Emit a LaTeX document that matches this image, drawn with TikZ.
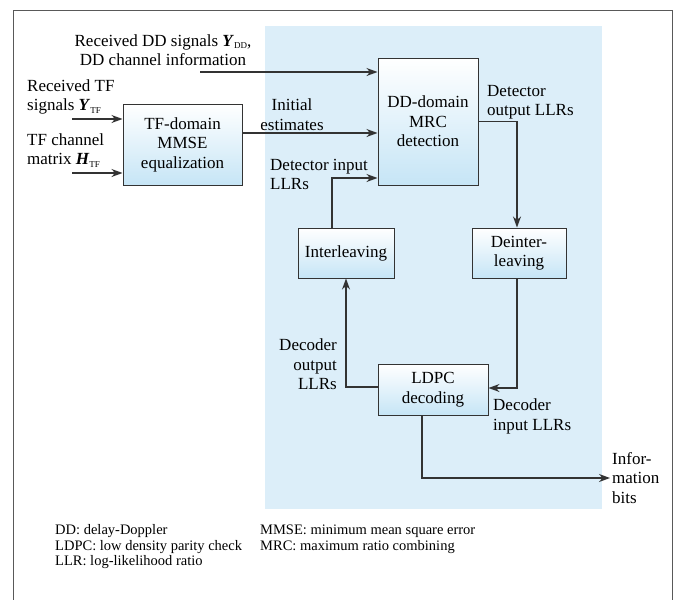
\documentclass[tikz,border=0pt]{standalone}
\usepackage{fontspec}
\setmainfont{Liberation Serif}
\usetikzlibrary{arrows.meta, positioning, calc}

\definecolor{panelblue}{HTML}{DCEEF9}
\definecolor{boxblue}{HTML}{C6E5F6}
\definecolor{edgegray}{HTML}{333333}
\newcommand{\bvec}[2]{\textbf{\textit{#1}}\raisebox{-0.35ex}{\fontsize{9}{9}\selectfont #2}}

\begin{document}
\begin{tikzpicture}[x=1pt, y=-1pt,
    every node/.style={font=\fontsize{17}{19.5}\selectfont, inner sep=2pt},
    block/.style={draw=edgegray, line width=1pt, top color=white, bottom color=boxblue, align=center, inner sep=0pt},
    lbl/.style={align=left, anchor=west},
    arr/.style={-{Stealth[length=11pt, width=8pt, inset=3.5pt]}, line width=1.1pt, draw=edgegray}]
    \useasboundingbox (0,0) rectangle (681,600);
    \fill[panelblue] (265,26) rectangle (602,509);
    \draw[gray!70!black, line width=1pt] (13,600) -- (13,10) -- (672,10) -- (672,600);

    \node[block, minimum width=119pt, minimum height=81pt] (tf) at (182.5,144.5) {TF-domain\\MMSE\\equalization};
    \node[block, minimum width=100pt, minimum height=127pt] (mrc) at (428,121.5) {DD-domain\\MRC\\detection};
    \node[block, minimum width=96pt, minimum height=50pt] (il) at (346,253) {Interleaving};
    \node[block, minimum width=94pt, minimum height=50pt] (dil) at (519,253) {Deinter-\\leaving};
    \node[block, minimum width=110pt, minimum height=51pt] (ldpc) at (433,389.5) {LDPC\\decoding};

    \node[align=center] (rxdd) at (163,50) {Received DD signals \bvec{Y}{DD},\\DD channel information};
    \node[lbl] (rxtf) at (25,97) {Received TF\\signals \bvec{Y}{TF}};
    \node[lbl] (tfch) at (25,150.5) {TF channel\\matrix \bvec{H}{TF}};
    \node[align=center] (init) at (292,114.5) {Initial\\estimates};
    \node[lbl] (detin) at (268,174.5) {Detector input\\LLRs};
    \node[lbl] (detout) at (485,102) {Detector\\output LLRs};
    \node[align=right, anchor=east] (decout) at (339,364.5) {Decoder\\output\\LLRs};
    \node[lbl] (decin) at (491,416.5) {Decoder\\input LLRs};
    \node[lbl] (bits) at (610,478) {Infor-\\mation\\bits};

    \coordinate (ddin) at (200,72);
    \coordinate (ytf) at (72,119);
    \coordinate (htf) at (72,173);

    \draw[arr] (ddin) -- ([yshift=49.5pt]mrc.west);
    \draw[arr] (ytf) -- (ytf -| tf.west);
    \draw[arr] (htf) -- (htf -| tf.west);
    \draw[arr] ([yshift=11.5pt]tf.east) -- ([yshift=11.5pt]tf.east -| mrc.west);
    \draw[arr] ([xshift=-14pt]il.north) |- ([yshift=-56.5pt]mrc.west);
    \draw[arr] (mrc.east) -| ([xshift=-2pt]dil.north);
    \draw[arr] ([xshift=-2pt]dil.south) |- ([yshift=1.5pt]ldpc.east);
    \draw[arr] ([yshift=2.5pt]ldpc.west) -| (il.south);
    \draw[arr] ([xshift=-11pt]ldpc.south) |- (bits.west);

    \node[align=left, anchor=west, font=\fontsize{14.5}{15.5}\selectfont] (legl) at (53,547) {DD: delay-Doppler\\LDPC: low density parity check\\LLR: log-likelihood ratio};
    \node[align=left, anchor=west, font=\fontsize{14.5}{15.5}\selectfont] (legr) at (258,539.5) {MMSE: minimum mean square error\\MRC: maximum ratio combining};
\end{tikzpicture}
\end{document}
